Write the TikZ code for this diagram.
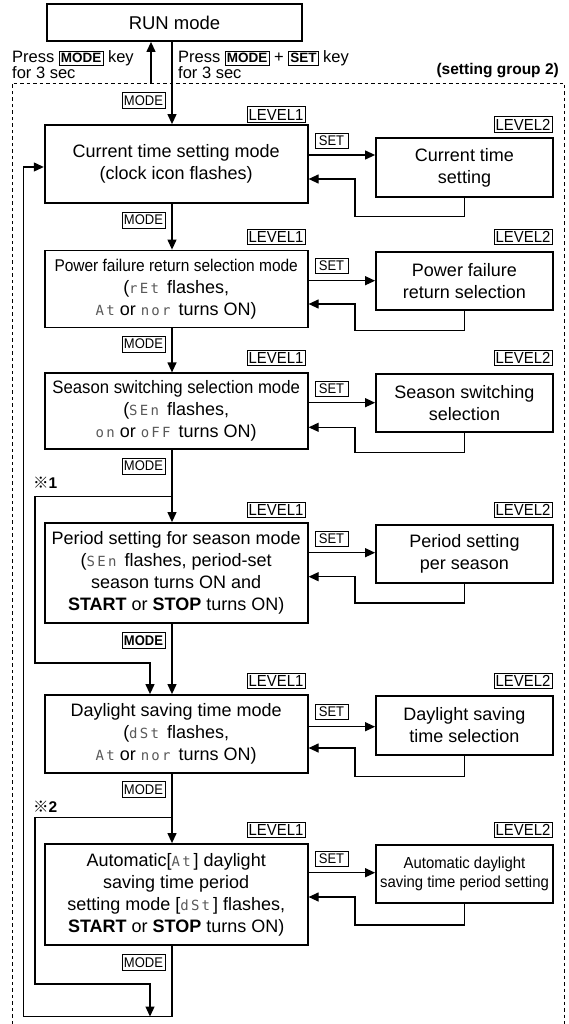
\documentclass[tikz,border=0pt]{standalone}
\usepackage{fontspec}
\setmainfont{Liberation Sans}
\newfontfamily\condA[FakeStretch=0.91]{Liberation Sans}
\newfontfamily\condB[FakeStretch=0.93]{Liberation Sans}
\newfontfamily\segf[LetterSpace=16]{DejaVu Sans Mono}
\newfontfamily\cjkf{Noto Sans CJK JP}
\usetikzlibrary{arrows.meta}
\newcommand{\mainfs}{\fontsize{18}{22}\selectfont}
\newcommand{\seg}[1]{{\segf\fontsize{14}{14}\selectfont\color{black!65}#1}}
\newcommand{\sgap}{\hspace{0.45em}}
\newcommand{\kb}[1]{{\setlength{\fboxsep}{1.4pt}\setlength{\fboxrule}{0.6pt}\fbox{\rule[-1.2pt]{0pt}{11pt}\fontsize{13.5}{13.5}\selectfont\bfseries #1}}}
\begin{document}
\begin{tikzpicture}[x=1pt,y=-1pt,
  arr/.style={-{Triangle[length=10pt,width=9pt]}, line width=1.2pt},
  mbox/.style={draw, line width=1.8pt, align=center, inner sep=0pt, minimum width=263, font=\mainfs},
  lbox/.style={draw, line width=1.8pt, align=center, inner sep=0pt, minimum width=177, font=\mainfs},
  lvl/.style={draw, line width=0.6pt, inner sep=0pt, minimum height=15.5, minimum width=58, font=\fontsize{16}{16}\selectfont\condB},
  modelab/.style={draw, line width=0.6pt, inner sep=0pt, minimum height=16, minimum width=43, font=\fontsize{14}{14}\selectfont\condB},
  setlab/.style={draw, line width=0.6pt, inner sep=0pt, minimum height=15, minimum width=33, font=\fontsize{14}{14}\selectfont\condB},
  txt/.style={inner sep=0pt, align=left, font=\fontsize{16.5}{15.5}\selectfont},
  frame/.style={line width=0.8pt, dash pattern=on 3.5pt off 3pt}
]
\useasboundingbox (0,0) rectangle (569,1024);

% coordinates for the vertical trunks
\coordinate (mx) at (172,0);
\coordinate (bx) at (150,0);
\coordinate (loopx) at (23.6,0);

% RUN mode
\node[draw, line width=1.8pt, minimum width=255, minimum height=37, inner sep=0pt, font=\fontsize{18.5}{18.5}\selectfont] (run) at (174.5,22.5) {RUN mode};

\node[txt, anchor=west] (press1) at (12,64.5) {Press \kb{MODE} key\\for 3 sec};
\node[txt, anchor=west] (press2) at (178,64.5) {Press \kb{MODE} + \kb{SET} key\\for 3 sec};
\node[inner sep=0pt, anchor=east, font=\fontsize{15.5}{15.5}\selectfont\bfseries] (grp) at (559,71) {(setting group 2)};

% dashed frame
\coordinate (fbl) at (12,1024);
\coordinate (ftl) at (12,83);
\coordinate (ftr) at (564,83);
\coordinate (fbr) at (564,1024);
\draw[frame] (fbl) -- (ftl) -- (ftr) -- (fbr);

% Level 1 boxes
\node[mbox, minimum height=78] (b1) at (176.2,164) {Current time setting mode\\(clock icon flashes)};
\node[mbox, minimum height=77] (b2) at (176.2,289) {{\condA\fontsize{17}{22}\selectfont Power failure return selection mode}\\(\seg{rEt}\sgap flashes,\\\seg{At} or \seg{nor}\sgap turns ON)};
\node[mbox, minimum height=76] (b3) at (176.2,411.3) {{\condB Season switching selection mode}\\(\seg{SEn}\sgap flashes,\\\seg{on} or \seg{oFF}\sgap turns ON)};
\node[mbox, minimum height=100] (b4) at (176.2,573) {Period setting for season mode\\(\seg{SEn}\sgap flashes, period-set\\season turns ON and\\\textbf{START} or \textbf{STOP} turns ON)};
\node[mbox, minimum height=78] (b5) at (176.2,734) {Daylight saving time mode\\(\seg{dSt}\sgap flashes,\\\seg{At} or \seg{nor}\sgap turns ON)};
\node[mbox, minimum height=101] (b6) at (176.2,894.5) {Automatic[\seg{At}\,] daylight\\saving time period\\setting mode [\seg{dSt}\,] flashes,\\\textbf{START} or \textbf{STOP} turns ON)};

% Level 2 boxes
\node[lbox, minimum height=59] (l1) at (464.5,167.5) {Current time\\setting};
\node[lbox, minimum height=58] (l2) at (464.5,281) {Power failure\\return selection};
\node[lbox, minimum height=58] (l3) at (464.5,403) {Season switching\\selection};
\node[lbox, minimum height=58] (l4) at (464.5,554) {Period setting\\per season};
\node[lbox, minimum height=59] (l5) at (464.5,725.5) {Daylight saving\\time selection};
\node[lbox, minimum height=58, font=\fontsize{16}{19.5}\selectfont\condB] (l6) at (464.5,874) {Automatic daylight\\saving time period setting};

% LEVEL labels
\node[lvl] (v11) at (276,114.5) {LEVEL1};
\node[lvl] (v12) at (523,124.5) {LEVEL2};
\node[lvl] (v21) at (276,237) {LEVEL1};
\node[lvl] (v22) at (523,237) {LEVEL2};
\node[lvl] (v31) at (276,358) {LEVEL1};
\node[lvl] (v32) at (523,358) {LEVEL2};
\node[lvl] (v41) at (276,510) {LEVEL1};
\node[lvl] (v42) at (523,510) {LEVEL2};
\node[lvl] (v51) at (276,681) {LEVEL1};
\node[lvl] (v52) at (523,681) {LEVEL2};
\node[lvl] (v61) at (276,830) {LEVEL1};
\node[lvl] (v62) at (523,830) {LEVEL2};

% MODE labels
\node[modelab] (m0) at (143.5,100.5) {MODE};
\node[modelab] (m1) at (143.5,220) {MODE};
\node[modelab] (m2) at (143.5,344) {MODE};
\node[modelab] (m3) at (143.5,466) {MODE};
\node[modelab, font=\fontsize{14}{14}\selectfont\condB\bfseries] (m4) at (143.5,640.5) {MODE};
\node[modelab] (m5) at (143.5,789.5) {MODE};
\node[modelab] (m6) at (143.5,962.5) {MODE};

% SET labels
\node[setlab] (s1l) at (331.5,141) {SET};
\node[setlab] (s2l) at (331.5,266) {SET};
\node[setlab] (s3l) at (331.5,389) {SET};
\node[setlab] (s4l) at (331.5,539) {SET};
\node[setlab] (s5l) at (331.5,712) {SET};
\node[setlab] (s6l) at (331.5,859) {SET};

% notes
\node[inner sep=0pt, anchor=west, font=\fontsize{15.5}{15.5}\selectfont] (n1) at (33,483) {{\cjkf ※}\textbf{1}};
\node[inner sep=0pt, anchor=west, font=\fontsize{15.5}{15.5}\selectfont] (n2) at (33,806.7) {{\cjkf ※}\textbf{2}};

% RUN connections
\coordinate (upst) at (151,83);
\draw[arr] (upst) -- (upst |- run.south);
\draw[arr] (run.south -| mx) -- (b1.north -| mx);

% SET / return connectors
\foreach \i/\sy/\ry/\by in {1/155/179/216.5, 2/280.7/304/330.7, 3/402.7/427.3/452.7, 4/552.7/576.7/603, 5/726.7/748/776.7, 6/872.7/897/925}{
  \coordinate (sy\i) at (0,\sy);
  \coordinate (ry\i) at (0,\ry);
  \coordinate (q\i) at (355,\by);
  \draw[arr] (sy\i -| b\i.east) -- (sy\i -| l\i.west);
  \draw[arr] (l\i.south) |- (q\i) |- (ry\i -| b\i.east);
}

% main trunk
\draw[arr] (b1.south -| mx) -- (b2.north -| mx);
\draw[arr] (b2.south -| mx) -- (b3.north -| mx);
\draw[arr] (b3.south -| mx) -- (b4.north -| mx);
\draw[arr] (b4.south -| mx) -- (b5.north -| mx);
\draw[arr] (b5.south -| mx) -- (b6.north -| mx);

% branch 1 (skip period setting)
\coordinate (br1) at (172,496.7);
\coordinate (br1d) at (35,663);
\draw[arr] (br1) -| (br1d) -| (b5.north -| bx);

% branch 2 (skip automatic)
\coordinate (br2) at (172,817.3);
\coordinate (br2d) at (35,984);
\coordinate (bot) at (172,1016.5);
\draw[arr] (br2) -| (br2d) -| (bot -| bx);

% loop back
\coordinate (loopin) at (0,167);
\draw[arr] (b6.south -| mx) -- (bot) -| (loopx |- loopin) -- (loopin -| b1.west);
\end{tikzpicture}
\end{document}
